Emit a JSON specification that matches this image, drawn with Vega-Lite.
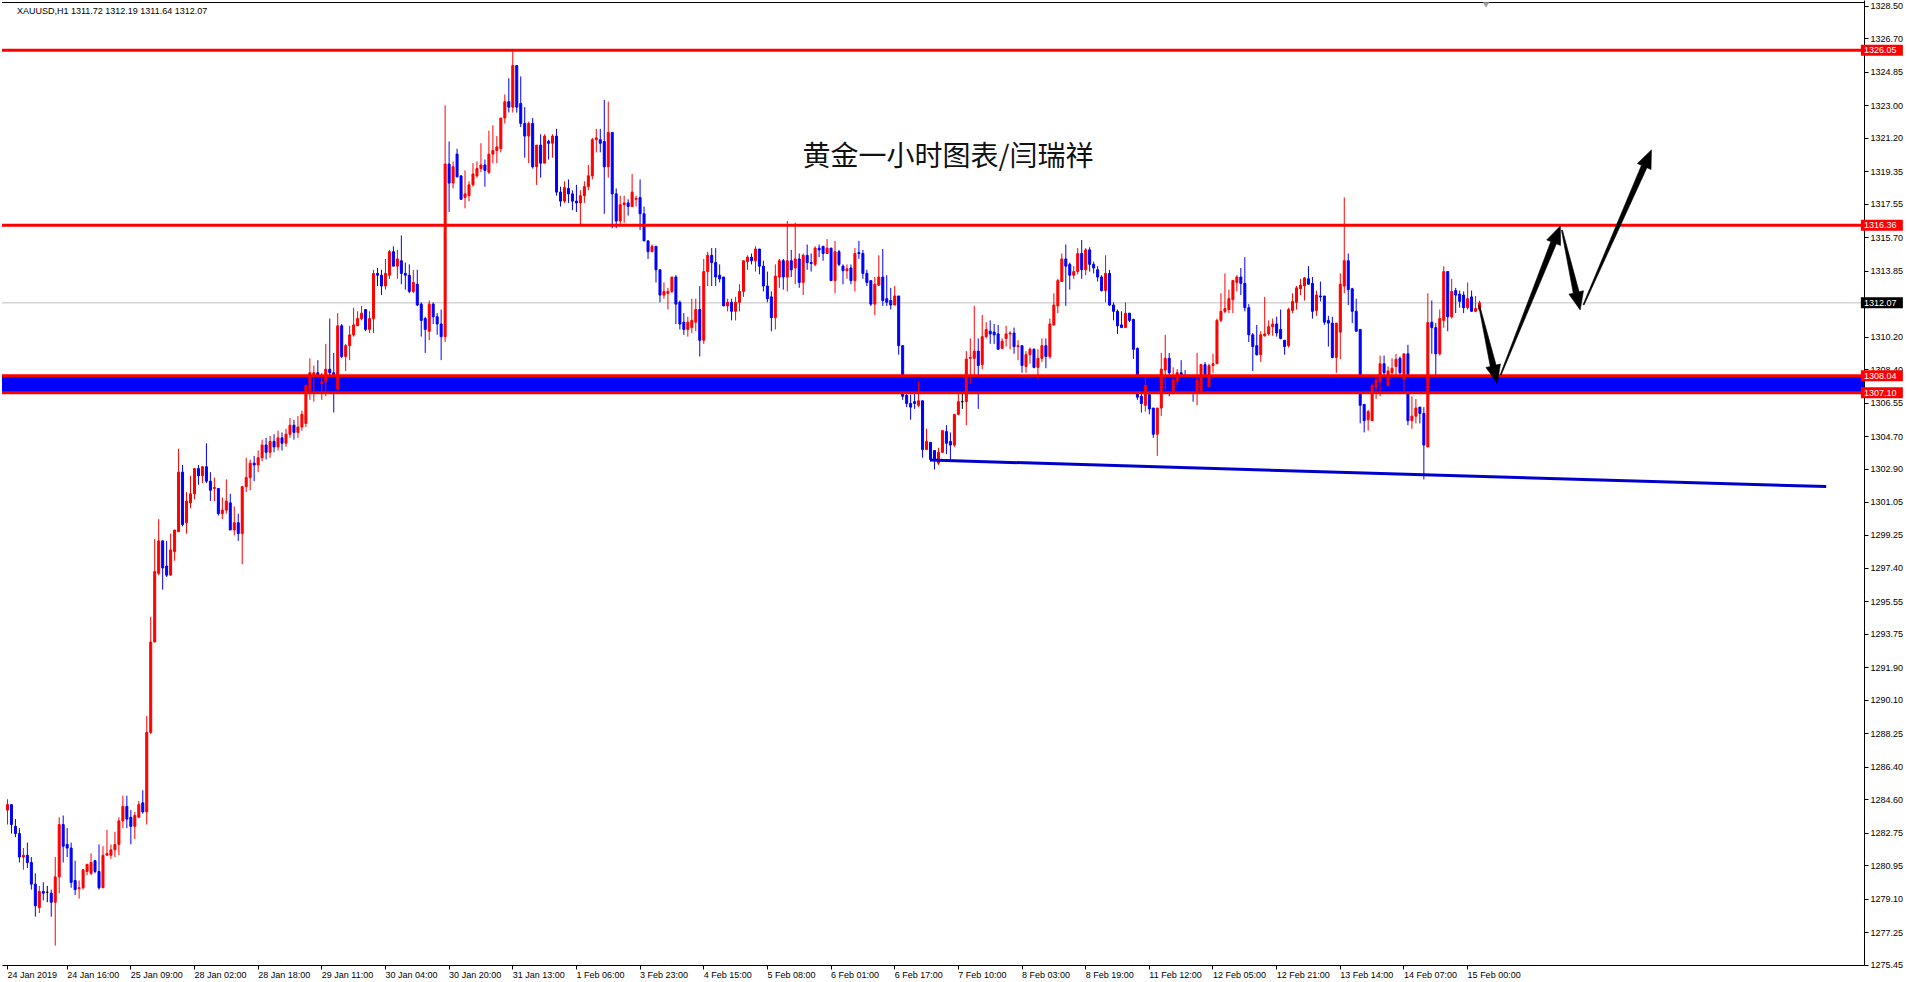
{
"$schema": "https://vega.github.io/schema/vega-lite/v6.json",
"width": 1862, "height": 965, "padding": 0, "background": "white",
"config": {"view": {"stroke": null}},
"resolve": {"axis": {"x": "independent", "y": "independent"}},
"datasets": {
"candles": [
{"i":0,"o":1284.0,"h":1284.6,"l":1283.2,"c":1284.3},{"i":1,"o":1284.3,"h":1284.3,"l":1282.7,"c":1283.2},{"i":2,"o":1283.1,"h":1283.5,"l":1282.5,"c":1282.7},{"i":3,"o":1282.7,"h":1283.0,"l":1281.1,"c":1281.4},{"i":4,"o":1281.4,"h":1281.9,"l":1280.7,"c":1281.5},{"i":5,"o":1281.5,"h":1282.2,"l":1280.8,"c":1281.1},{"i":6,"o":1281.1,"h":1281.4,"l":1279.6,"c":1279.9},{"i":7,"o":1279.9,"h":1280.5,"l":1278.1,"c":1278.7},{"i":8,"o":1278.6,"h":1279.8,"l":1278.3,"c":1279.5},{"i":9,"o":1279.5,"h":1280.0,"l":1279.0,"c":1279.4},
{"i":10,"o":1279.45,"h":1279.8,"l":1278.9,"c":1279.45},{"i":11,"o":1279.4,"h":1279.6,"l":1278.1,"c":1278.9},{"i":12,"o":1278.9,"h":1281.4,"l":1276.5,"c":1280.3},{"i":13,"o":1280.3,"h":1283.6,"l":1279.4,"c":1283.2},{"i":14,"o":1283.2,"h":1283.7,"l":1281.1,"c":1282.0},{"i":15,"o":1282.1,"h":1283.0,"l":1281.4,"c":1281.9},{"i":16,"o":1281.9,"h":1282.2,"l":1279.7,"c":1280.0},{"i":17,"o":1280.1,"h":1281.2,"l":1279.3,"c":1279.6},{"i":18,"o":1279.65,"h":1280.1,"l":1279.1,"c":1279.7},{"i":19,"o":1279.7,"h":1280.7,"l":1279.6,"c":1280.7},
{"i":20,"o":1280.6,"h":1281.0,"l":1280.4,"c":1281.0},{"i":21,"o":1280.5,"h":1281.6,"l":1280.4,"c":1281.1},{"i":22,"o":1281.2,"h":1281.2,"l":1280.5,"c":1280.6},{"i":23,"o":1280.6,"h":1282.1,"l":1279.6,"c":1279.7},{"i":24,"o":1279.7,"h":1282.0,"l":1279.7,"c":1281.5},{"i":25,"o":1281.5,"h":1282.9,"l":1281.5,"c":1281.6},{"i":26,"o":1281.5,"h":1282.1,"l":1281.3,"c":1281.8},{"i":27,"o":1281.8,"h":1282.8,"l":1281.4,"c":1282.1},{"i":28,"o":1282.1,"h":1283.6,"l":1281.5,"c":1283.4},{"i":29,"o":1283.4,"h":1284.8,"l":1283.0,"c":1284.2},
{"i":30,"o":1284.2,"h":1284.8,"l":1283.0,"c":1283.5},{"i":31,"o":1283.6,"h":1284.0,"l":1282.1,"c":1283.1},{"i":32,"o":1283.1,"h":1283.9,"l":1282.4,"c":1283.7},{"i":33,"o":1283.6,"h":1284.5,"l":1283.6,"c":1284.3},{"i":34,"o":1284.4,"h":1285.1,"l":1283.8,"c":1283.9},{"i":35,"o":1283.9,"h":1289.2,"l":1283.2,"c":1288.3},{"i":36,"o":1288.3,"h":1294.7,"l":1288.2,"c":1293.3},{"i":37,"o":1293.3,"h":1299.0,"l":1293.3,"c":1297.2},{"i":38,"o":1297.1,"h":1300.1,"l":1297.0,"c":1298.9},{"i":39,"o":1298.9,"h":1298.9,"l":1296.2,"c":1297.4},
{"i":40,"o":1297.5,"h":1298.9,"l":1296.9,"c":1297.0},{"i":41,"o":1297.0,"h":1299.3,"l":1297.0,"c":1298.4},{"i":42,"o":1298.3,"h":1299.5,"l":1297.8,"c":1299.5},{"i":43,"o":1299.4,"h":1304.0,"l":1299.4,"c":1302.7},{"i":44,"o":1302.7,"h":1303.1,"l":1299.7,"c":1299.8},{"i":45,"o":1299.9,"h":1301.6,"l":1299.3,"c":1301.1},{"i":46,"o":1301.0,"h":1302.5,"l":1300.7,"c":1301.5},{"i":47,"o":1301.5,"h":1302.9,"l":1301.2,"c":1302.9},{"i":48,"o":1302.9,"h":1303.1,"l":1302.0,"c":1302.5},{"i":49,"o":1302.5,"h":1303.0,"l":1302.1,"c":1303.0},
{"i":50,"o":1303.0,"h":1304.3,"l":1302.1,"c":1302.2},{"i":51,"o":1302.2,"h":1302.7,"l":1301.1,"c":1301.7},{"i":52,"o":1301.8,"h":1302.4,"l":1301.1,"c":1301.85},{"i":53,"o":1301.8,"h":1301.8,"l":1300.3,"c":1300.4},{"i":54,"o":1300.4,"h":1301.3,"l":1300.1,"c":1300.6},{"i":55,"o":1300.6,"h":1302.3,"l":1300.4,"c":1301.1},{"i":56,"o":1301.0,"h":1301.5,"l":1299.5,"c":1299.5},{"i":57,"o":1299.5,"h":1300.8,"l":1299.2,"c":1299.9},{"i":58,"o":1299.9,"h":1300.4,"l":1298.9,"c":1299.3},{"i":59,"o":1299.3,"h":1301.9,"l":1297.6,"c":1301.9},
{"i":60,"o":1301.9,"h":1303.5,"l":1301.6,"c":1302.4},{"i":61,"o":1302.4,"h":1303.4,"l":1301.7,"c":1303.2},{"i":62,"o":1303.2,"h":1303.6,"l":1302.2,"c":1303.1},{"i":63,"o":1303.1,"h":1303.9,"l":1302.7,"c":1303.5},{"i":64,"o":1303.5,"h":1304.5,"l":1303.3,"c":1304.2},{"i":65,"o":1304.2,"h":1304.6,"l":1303.4,"c":1303.8},{"i":66,"o":1303.8,"h":1304.7,"l":1303.5,"c":1304.4},{"i":67,"o":1304.4,"h":1304.8,"l":1303.8,"c":1304.1},{"i":68,"o":1304.1,"h":1305.0,"l":1303.9,"c":1304.6},{"i":69,"o":1304.6,"h":1304.9,"l":1303.9,"c":1304.3},
{"i":70,"o":1304.3,"h":1305.1,"l":1304.1,"c":1304.8},{"i":71,"o":1304.8,"h":1305.7,"l":1304.6,"c":1305.3},{"i":72,"o":1305.3,"h":1305.6,"l":1304.5,"c":1304.9},{"i":73,"o":1304.9,"h":1305.8,"l":1304.6,"c":1305.2},{"i":74,"o":1305.2,"h":1306.1,"l":1305.0,"c":1305.9},{"i":75,"o":1305.4,"h":1307.5,"l":1305.2,"c":1307.5},{"i":76,"o":1307.2,"h":1309.0,"l":1306.7,"c":1308.2},{"i":77,"o":1308.1,"h":1308.6,"l":1306.6,"c":1308.2},{"i":78,"o":1308.2,"h":1308.9,"l":1307.2,"c":1308.1},{"i":79,"o":1307.6,"h":1308.2,"l":1306.7,"c":1307.7},
{"i":80,"o":1307.7,"h":1309.8,"l":1306.9,"c":1308.4},{"i":81,"o":1308.4,"h":1311.2,"l":1307.1,"c":1308.2},{"i":82,"o":1308.2,"h":1309.3,"l":1306.0,"c":1307.2},{"i":83,"o":1307.3,"h":1311.5,"l":1307.2,"c":1310.8},{"i":84,"o":1310.8,"h":1310.9,"l":1309.0,"c":1309.1},{"i":85,"o":1309.1,"h":1309.8,"l":1308.3,"c":1309.7},{"i":86,"o":1309.7,"h":1310.8,"l":1308.9,"c":1310.3},{"i":87,"o":1310.3,"h":1311.8,"l":1310.2,"c":1310.85},{"i":88,"o":1310.8,"h":1311.6,"l":1310.8,"c":1311.2},{"i":89,"o":1311.2,"h":1311.9,"l":1311.1,"c":1311.5},
{"i":90,"o":1311.7,"h":1311.7,"l":1310.5,"c":1310.6},{"i":91,"o":1310.6,"h":1311.6,"l":1310.4,"c":1311.2},{"i":92,"o":1311.2,"h":1313.9,"l":1310.4,"c":1313.7},{"i":93,"o":1313.7,"h":1314.0,"l":1313.0,"c":1313.6},{"i":94,"o":1313.6,"h":1313.9,"l":1312.5,"c":1313.0},{"i":95,"o":1313.0,"h":1314.5,"l":1312.8,"c":1313.7},{"i":96,"o":1313.6,"h":1315.0,"l":1313.4,"c":1314.9},{"i":97,"o":1314.9,"h":1315.2,"l":1314.1,"c":1314.1},{"i":98,"o":1314.1,"h":1315.0,"l":1313.4,"c":1314.5},{"i":99,"o":1314.4,"h":1315.8,"l":1313.1,"c":1313.7},
{"i":100,"o":1313.7,"h":1314.3,"l":1312.8,"c":1313.6},{"i":101,"o":1313.6,"h":1314.2,"l":1312.6,"c":1312.7},{"i":102,"o":1312.7,"h":1313.9,"l":1312.6,"c":1313.2},{"i":103,"o":1313.1,"h":1313.9,"l":1311.9,"c":1311.95},{"i":104,"o":1312.0,"h":1312.1,"l":1310.2,"c":1311.1},{"i":105,"o":1311.2,"h":1311.3,"l":1309.3,"c":1310.6},{"i":106,"o":1310.5,"h":1312.2,"l":1310.0,"c":1312.0},{"i":107,"o":1312.0,"h":1312.1,"l":1310.9,"c":1311.3},{"i":108,"o":1311.3,"h":1311.5,"l":1310.3,"c":1310.9},{"i":109,"o":1310.9,"h":1311.7,"l":1308.9,"c":1310.2},
{"i":110,"o":1310.2,"h":1323.0,"l":1309.9,"c":1319.75},{"i":111,"o":1319.75,"h":1321.0,"l":1317.1,"c":1318.7},{"i":112,"o":1318.7,"h":1319.9,"l":1318.4,"c":1319.6},{"i":113,"o":1320.3,"h":1320.6,"l":1319.0,"c":1319.05},{"i":114,"o":1319.1,"h":1319.1,"l":1317.8,"c":1317.8},{"i":115,"o":1317.9,"h":1319.4,"l":1317.3,"c":1318.1},{"i":116,"o":1318.0,"h":1318.8,"l":1317.7,"c":1318.6},{"i":117,"o":1318.6,"h":1319.8,"l":1318.5,"c":1319.2},{"i":118,"o":1319.1,"h":1319.9,"l":1319.0,"c":1319.5},{"i":119,"o":1319.5,"h":1320.9,"l":1319.3,"c":1319.7},
{"i":120,"o":1319.7,"h":1320.0,"l":1318.5,"c":1319.4},{"i":121,"o":1319.3,"h":1321.6,"l":1319.2,"c":1320.3},{"i":122,"o":1320.3,"h":1321.9,"l":1319.8,"c":1320.5},{"i":123,"o":1320.5,"h":1321.3,"l":1319.8,"c":1320.7},{"i":124,"o":1320.6,"h":1322.3,"l":1320.4,"c":1322.3},{"i":125,"o":1322.3,"h":1323.6,"l":1322.0,"c":1323.2},{"i":126,"o":1323.2,"h":1324.5,"l":1322.6,"c":1322.9},{"i":127,"o":1322.9,"h":1326.0,"l":1322.6,"c":1325.2},{"i":128,"o":1325.2,"h":1325.2,"l":1322.6,"c":1322.9},{"i":129,"o":1323.1,"h":1324.6,"l":1321.8,"c":1322.0},
{"i":130,"o":1322.0,"h":1322.9,"l":1320.1,"c":1321.3},{"i":131,"o":1321.3,"h":1322.1,"l":1319.8,"c":1322.0},{"i":132,"o":1322.0,"h":1322.3,"l":1319.5,"c":1319.6},{"i":133,"o":1319.6,"h":1320.8,"l":1318.6,"c":1320.8},{"i":134,"o":1320.8,"h":1321.4,"l":1319.0,"c":1319.8},{"i":135,"o":1319.8,"h":1321.4,"l":1319.8,"c":1321.3},{"i":136,"o":1321.0,"h":1321.1,"l":1320.0,"c":1320.9},{"i":137,"o":1320.9,"h":1321.4,"l":1320.1,"c":1321.3},{"i":138,"o":1321.3,"h":1321.7,"l":1318.0,"c":1318.2},{"i":139,"o":1318.2,"h":1318.5,"l":1317.4,"c":1317.7},
{"i":140,"o":1317.7,"h":1318.8,"l":1317.6,"c":1318.45},{"i":141,"o":1318.4,"h":1318.9,"l":1317.6,"c":1318.1},{"i":142,"o":1318.1,"h":1318.3,"l":1317.2,"c":1317.7},{"i":143,"o":1317.7,"h":1318.6,"l":1317.1,"c":1317.6},{"i":144,"o":1317.6,"h":1318.3,"l":1316.4,"c":1318.0},{"i":145,"o":1318.0,"h":1318.8,"l":1317.6,"c":1318.5},{"i":146,"o":1318.5,"h":1319.7,"l":1318.3,"c":1319.1},{"i":147,"o":1319.1,"h":1321.2,"l":1318.9,"c":1321.1},{"i":148,"o":1321.1,"h":1321.7,"l":1320.4,"c":1321.2},{"i":149,"o":1321.1,"h":1321.7,"l":1320.4,"c":1320.9},
{"i":150,"o":1321.0,"h":1323.3,"l":1317.0,"c":1319.6},{"i":151,"o":1319.6,"h":1323.2,"l":1319.0,"c":1321.5},{"i":152,"o":1321.5,"h":1321.5,"l":1316.2,"c":1318.1},{"i":153,"o":1318.1,"h":1318.4,"l":1316.2,"c":1316.6},{"i":154,"o":1316.6,"h":1318.0,"l":1316.3,"c":1317.5},{"i":155,"o":1317.5,"h":1318.0,"l":1316.5,"c":1317.6},{"i":156,"o":1317.6,"h":1317.8,"l":1316.9,"c":1317.4},{"i":157,"o":1317.4,"h":1319.2,"l":1317.4,"c":1318.2},{"i":158,"o":1317.8,"h":1318.0,"l":1317.4,"c":1317.85},{"i":159,"o":1317.9,"h":1318.9,"l":1316.1,"c":1317.0},
{"i":160,"o":1317.0,"h":1317.4,"l":1315.5,"c":1315.5},{"i":161,"o":1315.5,"h":1315.5,"l":1314.5,"c":1314.9},{"i":162,"o":1314.9,"h":1315.3,"l":1314.9,"c":1315.2},{"i":163,"o":1315.2,"h":1315.2,"l":1313.2,"c":1313.9},{"i":164,"o":1313.9,"h":1313.9,"l":1312.1,"c":1312.5},{"i":165,"o":1312.5,"h":1313.2,"l":1312.3,"c":1312.7},{"i":166,"o":1312.6,"h":1312.9,"l":1311.7,"c":1312.7},{"i":167,"o":1312.7,"h":1313.5,"l":1312.6,"c":1313.5},{"i":168,"o":1313.5,"h":1313.6,"l":1310.9,"c":1312.0},{"i":169,"o":1312.1,"h":1312.2,"l":1310.6,"c":1310.9},
{"i":170,"o":1311.0,"h":1311.5,"l":1310.3,"c":1310.6},{"i":171,"o":1310.6,"h":1311.3,"l":1310.2,"c":1311.0},{"i":172,"o":1310.7,"h":1312.3,"l":1310.4,"c":1311.1},{"i":173,"o":1311.0,"h":1312.3,"l":1310.5,"c":1311.7},{"i":174,"o":1311.7,"h":1313.0,"l":1309.1,"c":1310.0},{"i":175,"o":1310.0,"h":1314.5,"l":1309.8,"c":1313.8},{"i":176,"o":1313.8,"h":1314.9,"l":1313.0,"c":1314.7},{"i":177,"o":1314.7,"h":1315.1,"l":1313.0,"c":1314.3},{"i":178,"o":1314.3,"h":1315.1,"l":1313.0,"c":1313.5},{"i":179,"o":1313.6,"h":1314.2,"l":1313.2,"c":1313.4},
{"i":180,"o":1313.5,"h":1313.5,"l":1311.9,"c":1311.9},{"i":181,"o":1311.9,"h":1312.3,"l":1311.6,"c":1312.1},{"i":182,"o":1312.1,"h":1312.3,"l":1311.1,"c":1311.6},{"i":183,"o":1311.6,"h":1312.4,"l":1311.1,"c":1312.1},{"i":184,"o":1312.1,"h":1313.1,"l":1311.6,"c":1312.7},{"i":185,"o":1312.7,"h":1314.4,"l":1312.4,"c":1314.4},{"i":186,"o":1314.35,"h":1314.7,"l":1313.9,"c":1314.6},{"i":187,"o":1314.6,"h":1314.8,"l":1314.2,"c":1314.4},{"i":188,"o":1314.4,"h":1315.2,"l":1313.8,"c":1315.05},{"i":189,"o":1315.05,"h":1315.05,"l":1313.65,"c":1314.1},
{"i":190,"o":1314.1,"h":1314.4,"l":1312.7,"c":1313.0},{"i":191,"o":1313.0,"h":1313.8,"l":1312.1,"c":1312.3},{"i":192,"o":1312.4,"h":1312.7,"l":1310.5,"c":1311.25},{"i":193,"o":1311.25,"h":1314.2,"l":1310.6,"c":1313.55},{"i":194,"o":1313.5,"h":1314.5,"l":1312.9,"c":1314.4},{"i":195,"o":1314.4,"h":1314.5,"l":1312.8,"c":1313.5},{"i":196,"o":1313.5,"h":1316.6,"l":1312.7,"c":1314.4},{"i":197,"o":1314.4,"h":1315.0,"l":1313.5,"c":1313.9},{"i":198,"o":1314.0,"h":1316.5,"l":1313.1,"c":1314.5},{"i":199,"o":1314.5,"h":1314.8,"l":1312.9,"c":1313.2},
{"i":200,"o":1313.2,"h":1314.8,"l":1312.5,"c":1314.7},{"i":201,"o":1314.7,"h":1315.3,"l":1313.9,"c":1314.3},{"i":202,"o":1314.3,"h":1314.8,"l":1313.8,"c":1314.25},{"i":203,"o":1314.2,"h":1315.2,"l":1314.1,"c":1315.1},{"i":204,"o":1315.1,"h":1315.3,"l":1314.6,"c":1315.0},{"i":205,"o":1315.2,"h":1315.2,"l":1314.4,"c":1314.8},{"i":206,"o":1314.8,"h":1315.6,"l":1314.8,"c":1315.1},{"i":207,"o":1315.1,"h":1315.1,"l":1313.3,"c":1313.3},{"i":208,"o":1313.3,"h":1315.5,"l":1312.6,"c":1314.9},{"i":209,"o":1314.9,"h":1315.0,"l":1314.1,"c":1314.2},
{"i":210,"o":1314.1,"h":1314.2,"l":1313.1,"c":1313.85},{"i":211,"o":1313.85,"h":1314.2,"l":1313.4,"c":1313.95},{"i":212,"o":1314.0,"h":1314.2,"l":1313.1,"c":1313.3},{"i":213,"o":1313.3,"h":1315.1,"l":1312.7,"c":1314.8},{"i":214,"o":1314.85,"h":1315.5,"l":1314.5,"c":1314.8},{"i":215,"o":1314.8,"h":1315.0,"l":1313.4,"c":1313.7},{"i":216,"o":1313.7,"h":1313.9,"l":1313.0,"c":1313.2},{"i":217,"o":1313.3,"h":1313.3,"l":1311.9,"c":1312.0},{"i":218,"o":1312.0,"h":1313.5,"l":1311.4,"c":1313.1},{"i":219,"o":1313.05,"h":1314.7,"l":1313.0,"c":1313.5},
{"i":220,"o":1313.5,"h":1315.05,"l":1311.9,"c":1312.2},{"i":221,"o":1312.3,"h":1313.6,"l":1311.9,"c":1312.1},{"i":222,"o":1312.2,"h":1312.9,"l":1311.7,"c":1311.95},{"i":223,"o":1311.95,"h":1313.0,"l":1311.95,"c":1312.45},{"i":224,"o":1312.45,"h":1312.45,"l":1309.2,"c":1309.7},{"i":225,"o":1309.7,"h":1309.7,"l":1306.7,"c":1306.9},{"i":226,"o":1306.95,"h":1307.2,"l":1306.3,"c":1306.5},{"i":227,"o":1306.5,"h":1307.0,"l":1305.6,"c":1306.3},{"i":228,"o":1306.6,"h":1307.1,"l":1306.2,"c":1306.5},{"i":229,"o":1306.4,"h":1307.7,"l":1306.3,"c":1306.65},
{"i":230,"o":1306.65,"h":1306.65,"l":1303.5,"c":1303.95},{"i":231,"o":1303.95,"h":1305.1,"l":1303.95,"c":1304.4},{"i":232,"o":1304.35,"h":1304.35,"l":1303.3,"c":1303.4},{"i":233,"o":1303.9,"h":1303.9,"l":1302.85,"c":1303.4},{"i":234,"o":1303.2,"h":1304.05,"l":1303.1,"c":1303.8},{"i":235,"o":1303.8,"h":1305.0,"l":1303.8,"c":1305.0},{"i":236,"o":1304.95,"h":1305.3,"l":1303.7,"c":1304.3},{"i":237,"o":1304.4,"h":1304.9,"l":1303.4,"c":1304.2},{"i":238,"o":1304.2,"h":1305.9,"l":1304.1,"c":1305.9},{"i":239,"o":1305.9,"h":1307.1,"l":1305.85,"c":1306.6},
{"i":240,"o":1306.6,"h":1307.2,"l":1306.2,"c":1306.6},{"i":241,"o":1306.6,"h":1309.4,"l":1305.3,"c":1308.96},{"i":242,"o":1309.0,"h":1310.1,"l":1307.6,"c":1309.05},{"i":243,"o":1309.0,"h":1311.9,"l":1308.0,"c":1309.4},{"i":244,"o":1309.4,"h":1310.1,"l":1306.2,"c":1308.6},{"i":245,"o":1308.65,"h":1311.4,"l":1308.4,"c":1310.2},{"i":246,"o":1310.2,"h":1311.0,"l":1310.1,"c":1310.6},{"i":247,"o":1310.5,"h":1311.1,"l":1309.8,"c":1310.35},{"i":248,"o":1310.45,"h":1310.9,"l":1309.8,"c":1310.3},{"i":249,"o":1310.35,"h":1310.85,"l":1309.5,"c":1309.5},
{"i":250,"o":1309.55,"h":1310.1,"l":1309.5,"c":1309.95},{"i":251,"o":1310.1,"h":1310.8,"l":1309.65,"c":1310.35},{"i":252,"o":1310.35,"h":1310.5,"l":1309.5,"c":1310.4},{"i":253,"o":1310.4,"h":1310.7,"l":1309.25,"c":1309.65},{"i":254,"o":1309.65,"h":1310.0,"l":1308.9,"c":1309.7},{"i":255,"o":1309.7,"h":1309.7,"l":1308.2,"c":1308.6},{"i":256,"o":1308.55,"h":1309.4,"l":1308.2,"c":1309.2},{"i":257,"o":1309.2,"h":1309.6,"l":1308.7,"c":1309.5},{"i":258,"o":1309.5,"h":1309.55,"l":1308.45,"c":1308.5},{"i":259,"o":1308.5,"h":1309.5,"l":1307.8,"c":1309.0},
{"i":260,"o":1309.0,"h":1310.1,"l":1308.8,"c":1309.7},{"i":261,"o":1309.7,"h":1310.1,"l":1308.45,"c":1309.1},{"i":262,"o":1309.1,"h":1311.2,"l":1308.97,"c":1310.9},{"i":263,"o":1310.85,"h":1312.6,"l":1310.8,"c":1311.95},{"i":264,"o":1311.9,"h":1313.4,"l":1311.5,"c":1313.3},{"i":265,"o":1313.25,"h":1314.8,"l":1313.25,"c":1314.5},{"i":266,"o":1314.5,"h":1315.3,"l":1311.9,"c":1314.1},{"i":267,"o":1314.2,"h":1314.3,"l":1312.8,"c":1313.6},{"i":268,"o":1313.6,"h":1314.1,"l":1313.4,"c":1313.8},{"i":269,"o":1313.8,"h":1315.1,"l":1313.65,"c":1314.8},
{"i":270,"o":1314.8,"h":1315.55,"l":1313.4,"c":1313.9},{"i":271,"o":1313.9,"h":1315.1,"l":1313.6,"c":1315.0},{"i":272,"o":1315.0,"h":1315.15,"l":1313.8,"c":1314.2},{"i":273,"o":1314.2,"h":1314.35,"l":1313.7,"c":1314.0},{"i":274,"o":1313.9,"h":1314.1,"l":1313.25,"c":1313.5},{"i":275,"o":1313.5,"h":1313.6,"l":1312.7,"c":1312.75},{"i":276,"o":1312.75,"h":1314.7,"l":1312.1,"c":1313.7},{"i":277,"o":1313.7,"h":1313.9,"l":1311.9,"c":1311.95},{"i":278,"o":1311.95,"h":1312.1,"l":1311.1,"c":1311.6},{"i":279,"o":1311.6,"h":1311.7,"l":1310.35,"c":1310.8},
{"i":280,"o":1310.85,"h":1311.6,"l":1310.7,"c":1310.7},{"i":281,"o":1310.7,"h":1312.1,"l":1310.7,"c":1311.5},{"i":282,"o":1311.5,"h":1311.5,"l":1311.0,"c":1311.1},{"i":283,"o":1311.15,"h":1311.2,"l":1308.97,"c":1309.5},{"i":284,"o":1309.55,"h":1309.6,"l":1306.7,"c":1306.85},{"i":285,"o":1306.9,"h":1307.1,"l":1306.0,"c":1306.5},{"i":286,"o":1306.4,"h":1307.95,"l":1306.05,"c":1307.5},{"i":287,"o":1307.0,"h":1307.0,"l":1305.9,"c":1306.2},{"i":288,"o":1306.25,"h":1306.25,"l":1304.6,"c":1304.8},{"i":289,"o":1304.8,"h":1306.25,"l":1303.6,"c":1306.25},
{"i":290,"o":1306.25,"h":1309.3,"l":1305.8,"c":1308.4},{"i":291,"o":1308.35,"h":1310.3,"l":1307.25,"c":1309.0},{"i":292,"o":1309.0,"h":1309.3,"l":1306.9,"c":1308.2},{"i":293,"o":1307.2,"h":1308.5,"l":1307.0,"c":1307.8},{"i":294,"o":1307.75,"h":1308.4,"l":1307.5,"c":1308.2},{"i":295,"o":1308.2,"h":1308.9,"l":1307.7,"c":1308.0},{"i":296,"o":1308.05,"h":1308.35,"l":1307.8,"c":1307.95},{"i":297,"o":1307.95,"h":1308.1,"l":1307.4,"c":1307.6},{"i":298,"o":1307.6,"h":1307.7,"l":1306.6,"c":1307.2},{"i":299,"o":1307.2,"h":1309.3,"l":1306.4,"c":1307.8},
{"i":300,"o":1307.2,"h":1308.7,"l":1307.1,"c":1308.65},{"i":301,"o":1308.65,"h":1308.8,"l":1307.1,"c":1308.1},{"i":302,"o":1307.45,"h":1308.7,"l":1307.4,"c":1308.6},{"i":303,"o":1308.6,"h":1309.25,"l":1308.2,"c":1308.7},{"i":304,"o":1308.7,"h":1311.2,"l":1308.7,"c":1311.1},{"i":305,"o":1311.1,"h":1312.6,"l":1311.0,"c":1311.6},{"i":306,"o":1311.6,"h":1313.7,"l":1311.5,"c":1311.75},{"i":307,"o":1311.7,"h":1312.8,"l":1311.5,"c":1312.3},{"i":308,"o":1312.25,"h":1313.35,"l":1311.5,"c":1313.3},{"i":309,"o":1313.2,"h":1313.6,"l":1312.7,"c":1313.5},
{"i":310,"o":1313.5,"h":1314.0,"l":1312.5,"c":1313.15},{"i":311,"o":1313.15,"h":1314.6,"l":1311.6,"c":1311.8},{"i":312,"o":1311.8,"h":1312.0,"l":1309.9,"c":1310.3},{"i":313,"o":1310.3,"h":1310.4,"l":1308.3,"c":1309.65},{"i":314,"o":1309.7,"h":1310.85,"l":1309.15,"c":1309.2},{"i":315,"o":1309.2,"h":1310.5,"l":1308.8,"c":1310.3},{"i":316,"o":1310.25,"h":1312.4,"l":1310.2,"c":1310.35},{"i":317,"o":1310.35,"h":1311.1,"l":1310.25,"c":1310.75},{"i":318,"o":1310.75,"h":1311.2,"l":1310.25,"c":1310.9},{"i":319,"o":1310.9,"h":1311.3,"l":1310.2,"c":1310.4},
{"i":320,"o":1310.6,"h":1311.7,"l":1310.05,"c":1310.1},{"i":321,"o":1310.0,"h":1310.0,"l":1309.2,"c":1309.65},{"i":322,"o":1309.7,"h":1311.8,"l":1309.6,"c":1311.7},{"i":323,"o":1311.65,"h":1312.6,"l":1311.5,"c":1312.15},{"i":324,"o":1312.1,"h":1313.0,"l":1311.7,"c":1312.9},{"i":325,"o":1312.85,"h":1313.4,"l":1312.5,"c":1313.05},{"i":326,"o":1313.0,"h":1313.5,"l":1312.2,"c":1313.45},{"i":327,"o":1313.4,"h":1314.1,"l":1313.1,"c":1313.1},{"i":328,"o":1313.15,"h":1313.5,"l":1311.2,"c":1311.6},{"i":329,"o":1311.65,"h":1312.75,"l":1311.35,"c":1312.5},
{"i":330,"o":1312.45,"h":1313.25,"l":1312.15,"c":1312.4},{"i":331,"o":1312.45,"h":1312.45,"l":1310.85,"c":1311.0},{"i":332,"o":1311.1,"h":1311.35,"l":1309.65,"c":1310.95},{"i":333,"o":1310.95,"h":1311.3,"l":1309.0,"c":1309.05},{"i":334,"o":1309.05,"h":1310.95,"l":1308.2,"c":1310.95},{"i":335,"o":1310.45,"h":1313.7,"l":1308.95,"c":1313.1},{"i":336,"o":1313.0,"h":1317.9,"l":1312.6,"c":1314.4},{"i":337,"o":1314.4,"h":1314.8,"l":1311.95,"c":1312.8},{"i":338,"o":1312.85,"h":1312.9,"l":1310.95,"c":1311.6},{"i":339,"o":1311.6,"h":1312.3,"l":1310.5,"c":1310.5},
{"i":340,"o":1310.6,"h":1310.6,"l":1305.4,"c":1306.4},{"i":341,"o":1306.45,"h":1306.45,"l":1304.9,"c":1305.55},{"i":342,"o":1305.6,"h":1306.15,"l":1305.0,"c":1306.05},{"i":343,"o":1305.55,"h":1307.6,"l":1305.55,"c":1307.5},{"i":344,"o":1307.4,"h":1307.95,"l":1306.75,"c":1307.8},{"i":345,"o":1307.7,"h":1309.15,"l":1306.9,"c":1308.7},{"i":346,"o":1308.7,"h":1309.15,"l":1307.8,"c":1308.2},{"i":347,"o":1307.5,"h":1308.55,"l":1307.45,"c":1308.3},{"i":348,"o":1308.2,"h":1309.0,"l":1308.1,"c":1308.45},{"i":349,"o":1308.55,"h":1309.25,"l":1308.05,"c":1308.95},
{"i":350,"o":1309.0,"h":1309.1,"l":1308.1,"c":1308.2},{"i":351,"o":1307.85,"h":1309.25,"l":1307.2,"c":1309.25},{"i":352,"o":1309.25,"h":1309.75,"l":1305.3,"c":1305.55},{"i":353,"o":1305.55,"h":1306.9,"l":1305.1,"c":1305.8},{"i":354,"o":1305.8,"h":1306.75,"l":1305.4,"c":1306.25},{"i":355,"o":1306.3,"h":1306.3,"l":1305.4,"c":1305.95},{"i":356,"o":1305.95,"h":1306.3,"l":1302.3,"c":1304.2},{"i":357,"o":1304.1,"h":1312.6,"l":1304.08,"c":1310.98},{"i":358,"o":1311.0,"h":1312.2,"l":1309.25,"c":1310.7},{"i":359,"o":1310.7,"h":1310.95,"l":1308.0,"c":1309.25},
{"i":360,"o":1309.25,"h":1311.7,"l":1309.15,"c":1311.2},{"i":361,"o":1311.1,"h":1314.1,"l":1310.7,"c":1313.8},{"i":362,"o":1313.8,"h":1313.8,"l":1310.5,"c":1311.3},{"i":363,"o":1311.3,"h":1313.4,"l":1311.2,"c":1312.7},{"i":364,"o":1312.75,"h":1312.9,"l":1311.5,"c":1312.5},{"i":365,"o":1312.55,"h":1312.75,"l":1311.8,"c":1312.15},{"i":366,"o":1312.5,"h":1312.7,"l":1311.5,"c":1311.8},{"i":367,"o":1311.8,"h":1313.2,"l":1311.7,"c":1312.3},{"i":368,"o":1312.4,"h":1312.75,"l":1311.6,"c":1311.6},{"i":369,"o":1311.6,"h":1312.45,"l":1311.55,"c":1311.75},
{"i":370,"o":1311.72,"h":1312.19,"l":1311.64,"c":1312.07}
],
"arrows": [
{"a":1,"k":0,"i":369.753,"p":1311.945},{"a":1,"k":1,"i":372.695,"p":1308.550},{"a":1,"k":2,"i":371.600,"p":1308.493},{"a":1,"k":3,"i":374.450,"p":1307.618},{"a":1,"k":4,"i":375.250,"p":1308.683},{"a":1,"k":5,"i":374.155,"p":1308.626},{"a":1,"k":6,"i":369.998,"p":1311.957},
{"a":2,"k":0,"i":375.415,"p":1308.067},{"a":2,"k":1,"i":389.315,"p":1315.337},{"a":2,"k":2,"i":390.360,"p":1315.244},{"a":2,"k":3,"i":390.300,"p":1316.323},{"a":2,"k":4,"i":386.880,"p":1315.554},{"a":2,"k":5,"i":387.925,"p":1315.461},{"a":2,"k":6,"i":375.185,"p":1308.088},
{"a":3,"k":0,"i":390.578,"p":1316.096},{"a":3,"k":1,"i":393.563,"p":1312.608},{"a":3,"k":2,"i":392.465,"p":1312.552},{"a":3,"k":3,"i":395.300,"p":1311.675},{"a":3,"k":4,"i":396.120,"p":1312.738},{"a":3,"k":5,"i":395.023,"p":1312.682},{"a":3,"k":6,"i":390.823,"p":1316.108},
{"a":4,"k":0,"i":396.240,"p":1311.940},{"a":4,"k":1,"i":412.073,"p":1319.551},{"a":4,"k":2,"i":413.100,"p":1319.450},{"a":4,"k":3,"i":413.200,"p":1320.529},{"a":4,"k":4,"i":409.670,"p":1319.785},{"a":4,"k":5,"i":410.700,"p":1319.685},{"a":4,"k":6,"i":396.010,"p":1311.962}
]
},
"layer": [
{"data": {"values": [{"lo": 1307.10, "hi": 1308.04}]},
 "mark": {"type": "rect", "color": "#0000FF"},
 "encoding": {
  "y": {"field": "lo", "type": "quantitative", "scale": {"domain": [1275.426, 1328.83], "nice": false, "zero": false}, "axis": null},
  "y2": {"field": "hi"}}},
{"data": {"values": [{"p": 1312.07}]},
 "mark": {"type": "rule", "color": "#C0C0C0", "strokeWidth": 1},
 "encoding": {"y": {"field": "p", "type": "quantitative", "scale": {"domain": [1275.426, 1328.83], "nice": false, "zero": false}, "axis": null}}},
{"data": {"name": "candles"},
 "mark": {"type": "rule", "strokeWidth": 1},
 "encoding": {
  "x": {"field": "i", "type": "quantitative", "scale": {"domain": [-0.125, 465.375], "nice": false, "zero": false},
   "axis": {"orient": "bottom", "title": null, "grid": false, "values": [-0.125,14.875,30.875,46.875,62.875,78.875,94.875,110.875,126.875,142.875,158.875,174.875,190.875,206.875,222.875,238.875,254.875,270.875,286.875,302.875,318.875,334.875,350.875,366.875],
    "labelExpr": "['24 Jan 2019','24 Jan 16:00','25 Jan 09:00','28 Jan 02:00','28 Jan 18:00','29 Jan 11:00','30 Jan 04:00','30 Jan 20:00','31 Jan 13:00','1 Feb 06:00','3 Feb 23:00','4 Feb 15:00','5 Feb 08:00','6 Feb 01:00','6 Feb 17:00','7 Feb 10:00','8 Feb 03:00','8 Feb 19:00','11 Feb 12:00','12 Feb 05:00','12 Feb 21:00','13 Feb 14:00','14 Feb 07:00','15 Feb 00:00'][round((datum.value+1.125)/16)]",
    "labelAlign": "left", "labelBaseline": "top", "labelPadding": 1, "tickSize": 4, "labelFont": "Liberation Sans", "labelFontSize": 9, "labelColor": "#000000",
    "labelOverlap": false, "labelFlush": false, "domainColor": "#000000", "tickColor": "#000000", "domainWidth": 1}},
  "y": {"field": "l", "type": "quantitative", "scale": {"domain": [1275.426, 1328.83], "nice": false, "zero": false},
   "axis": {"orient": "right", "title": null, "grid": false, "format": ".2f",
    "values": [1328.50,1326.70,1324.85,1323.00,1321.20,1319.35,1317.55,1315.70,1313.85,1310.20,1308.40,1306.55,1304.70,1302.90,1301.05,1299.25,1297.40,1295.55,1293.75,1291.90,1290.10,1288.25,1286.40,1284.60,1282.75,1280.95,1279.10,1277.25,1275.45],
    "labelFont": "Liberation Sans", "labelFontSize": 9, "labelColor": "#000000", "labelPadding": 2, "tickSize": 4,
    "labelOverlap": false, "labelFlush": false, "labelBaseline": "middle", "domainColor": "#000000", "tickColor": "#000000"}},
  "y2": {"field": "h"},
  "color": {"condition": [{"test": "datum.c == datum.o", "value": "#000000"}, {"test": "datum.c > datum.o", "value": "#FF0000"}], "value": "#0000FF"}}},
{"data": {"name": "candles"},
 "mark": {"type": "bar", "size": 2, "strokeWidth": 1},
 "encoding": {
  "x": {"field": "i", "type": "quantitative", "scale": {"domain": [-0.125, 465.375], "nice": false, "zero": false}, "axis": null},
  "y": {"field": "o", "type": "quantitative", "scale": {"domain": [1275.426, 1328.83], "nice": false, "zero": false}, "axis": null},
  "y2": {"field": "c"},
  "fill": {"condition": [{"test": "datum.c == datum.o", "value": "#000000"}, {"test": "datum.c > datum.o", "value": "#FF0000"}], "value": "#0000FF"},
  "stroke": {"condition": [{"test": "datum.c == datum.o", "value": "#000000"}, {"test": "datum.c > datum.o", "value": "#FF0000"}], "value": "#0000FF"}}},
{"data": {"values": [{"p": 1326.05}, {"p": 1316.36}, {"p": 1308.04}, {"p": 1307.10}]},
 "mark": {"type": "rule", "color": "#FF0000", "strokeWidth": 3},
 "encoding": {"y": {"field": "p", "type": "quantitative", "scale": {"domain": [1275.426, 1328.83], "nice": false, "zero": false}, "axis": null}}},
{"data": {"values": [{"i": 231.875, "p": 1303.37, "i2": 457.125, "p2": 1301.90}]},
 "mark": {"type": "rule", "color": "#0000CC", "strokeWidth": 3},
 "encoding": {
  "x": {"field": "i", "type": "quantitative", "scale": {"domain": [-0.125, 465.375], "nice": false, "zero": false}, "axis": null},
  "x2": {"field": "i2"},
  "y": {"field": "p", "type": "quantitative", "scale": {"domain": [1275.426, 1328.83], "nice": false, "zero": false}, "axis": null},
  "y2": {"field": "p2"}}},
{"data": {"name": "arrows"},
 "mark": {"type": "line", "fill": "#000000", "stroke": "#000000", "strokeWidth": 0.6, "strokeJoin": "miter"},
 "encoding": {
  "x": {"field": "i", "type": "quantitative", "scale": {"domain": [-0.125, 465.375], "nice": false, "zero": false}, "axis": null},
  "y": {"field": "p", "type": "quantitative", "scale": {"domain": [1275.426, 1328.83], "nice": false, "zero": false}, "axis": null},
  "detail": {"field": "a", "type": "nominal"},
  "order": {"field": "k", "type": "quantitative"}}},
{"data": {"values": [{"label": "黄金一小时图表/闫瑞祥", "i": 236.375, "p": 1320.09}]},
 "mark": {"type": "text", "font": "Noto Sans CJK SC", "fontSize": 28, "align": "center", "baseline": "middle", "color": "#111111"},
 "encoding": {
  "x": {"field": "i", "type": "quantitative", "scale": {"domain": [-0.125, 465.375], "nice": false, "zero": false}, "axis": null},
  "y": {"field": "p", "type": "quantitative", "scale": {"domain": [1275.426, 1328.83], "nice": false, "zero": false}, "axis": null},
  "text": {"field": "label"}}},
{"data": {"values": [{"label": "XAUUSD,H1  1311.72 1312.19 1311.64 1312.07", "i": 2.375, "p": 1328.22}]},
 "mark": {"type": "text", "font": "Liberation Sans", "fontSize": 9, "align": "left", "baseline": "middle", "color": "#000000"},
 "encoding": {
  "x": {"field": "i", "type": "quantitative", "scale": {"domain": [-0.125, 465.375], "nice": false, "zero": false}, "axis": null},
  "y": {"field": "p", "type": "quantitative", "scale": {"domain": [1275.426, 1328.83], "nice": false, "zero": false}, "axis": null},
  "text": {"field": "label"}}},
{"data": {"values": [{"p": 1328.69}]},
 "mark": {"type": "rule", "color": "#000000", "strokeWidth": 1},
 "encoding": {"y": {"field": "p", "type": "quantitative", "scale": {"domain": [1275.426, 1328.83], "nice": false, "zero": false}, "axis": null}}},
{"data": {"values": [{"i": 371.625, "p": 1328.55}]},
 "mark": {"type": "point", "shape": "triangle-down", "size": 40, "filled": true, "color": "#A0A0A0", "opacity": 1},
 "encoding": {
  "x": {"field": "i", "type": "quantitative", "scale": {"domain": [-0.125, 465.375], "nice": false, "zero": false}, "axis": null},
  "y": {"field": "p", "type": "quantitative", "scale": {"domain": [1275.426, 1328.83], "nice": false, "zero": false}, "axis": null}}},
{"data": {"values": [{"p": 1326.05}, {"p": 1316.36}, {"p": 1308.04}, {"p": 1307.10}]},
 "mark": {"type": "tick", "orient": "horizontal", "color": "#FF0000", "size": 42, "thickness": 11, "opacity": 1},
 "encoding": {
  "x": {"datum": 471.125, "type": "quantitative", "scale": {"domain": [-0.125, 465.375], "nice": false, "zero": false}, "axis": null},
  "y": {"field": "p", "type": "quantitative", "scale": {"domain": [1275.426, 1328.83], "nice": false, "zero": false}, "axis": null}}},
{"data": {"values": [{"p": 1312.07}]},
 "mark": {"type": "tick", "orient": "horizontal", "color": "#000000", "size": 42, "thickness": 11, "opacity": 1},
 "encoding": {
  "x": {"datum": 471.125, "type": "quantitative", "scale": {"domain": [-0.125, 465.375], "nice": false, "zero": false}, "axis": null},
  "y": {"field": "p", "type": "quantitative", "scale": {"domain": [1275.426, 1328.83], "nice": false, "zero": false}, "axis": null}}},
{"data": {"values": [{"p": 1326.05}, {"p": 1316.36}, {"p": 1312.07}, {"p": 1308.04}, {"p": 1307.10}]},
 "mark": {"type": "text", "font": "Liberation Sans", "fontSize": 9, "align": "left", "baseline": "middle", "color": "#FFFFFF"},
 "encoding": {
  "x": {"datum": 466.625, "type": "quantitative", "scale": {"domain": [-0.125, 465.375], "nice": false, "zero": false}, "axis": null},
  "y": {"field": "p", "type": "quantitative", "scale": {"domain": [1275.426, 1328.83], "nice": false, "zero": false}, "axis": null},
  "text": {"field": "p", "type": "quantitative", "format": ".2f"}}}
]
}
